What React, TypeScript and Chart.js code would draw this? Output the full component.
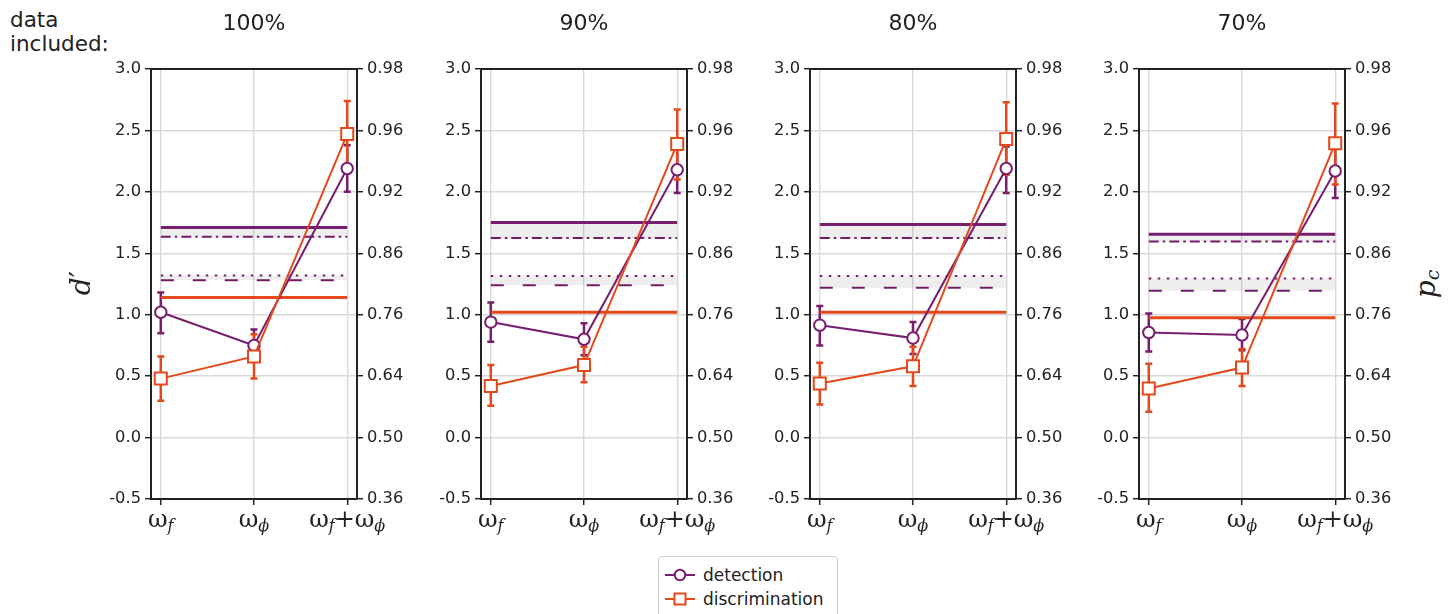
import React, { useEffect, useRef } from 'react';
import { Chart, registerables } from 'chart.js';

Chart.register(...registerables);

// ---------- data ----------
const panelTitles = ['100%', '90%', '80%', '70%'];
const categories = [0, 1, 2]; // ω_f, ω_ϕ, ω_f+ω_ϕ
const categoryLabels = [
  [{ t: 'ω' }, { t: 'f', sub: true }],
  [{ t: 'ω' }, { t: 'ϕ', sub: true }],
  [{ t: 'ω' }, { t: 'f', sub: true }, { t: '+' }, { t: 'ω' }, { t: 'ϕ', sub: true }],
];
const dprimeTicks = [-0.5, 0, 0.5, 1, 1.5, 2, 2.5, 3];
const pcTickLabels = ['0.36', '0.50', '0.64', '0.76', '0.86', '0.92', '0.96', '0.98'];

const detectionMean = [
  [1.02, 0.75, 2.19],
  [0.94, 0.8, 2.18],
  [0.915, 0.81, 2.19],
  [0.855, 0.835, 2.17],
];
const detectionLow = [
  [0.85, 0.62, 2.0],
  [0.78, 0.67, 1.99],
  [0.75, 0.68, 1.99],
  [0.7, 0.71, 1.95],
];
const detectionHigh = [
  [1.18, 0.88, 2.38],
  [1.1, 0.93, 2.36],
  [1.07, 0.94, 2.37],
  [1.01, 0.965, 2.38],
];
const discriminationMean = [
  [0.48, 0.66, 2.47],
  [0.42, 0.59, 2.39],
  [0.44, 0.58, 2.43],
  [0.4, 0.57, 2.395],
];
const discriminationLow = [
  [0.3, 0.48, 2.21],
  [0.26, 0.45, 2.1],
  [0.27, 0.42, 2.14],
  [0.21, 0.42, 2.06],
];
const discriminationHigh = [
  [0.66, 0.84, 2.74],
  [0.59, 0.74, 2.67],
  [0.61, 0.74, 2.73],
  [0.6, 0.72, 2.72],
];
const detectionSolid = [1.71, 1.75, 1.735, 1.655];
const detectionDashDot = [1.635, 1.625, 1.625, 1.595];
const detectionDotted = [1.32, 1.315, 1.315, 1.295];
const detectionDashed = [1.28, 1.24, 1.22, 1.195];
const discriminationSolid = [1.14, 1.02, 1.02, 0.975];

// ---------- style ----------
const PURPLE = '#771e6f';
const RED = '#e3491b';
const INK = '#222222';
const GRID = '#d9d9d9';
const BAND = 'rgba(0,0,0,0.065)';
const panelLefts = [151, 481, 810, 1139];
const AREA_W = 206;
const SIDE = 60;

const makeErrorBars = (p: number) => ({
  id: 'errorBars',
  beforeDatasetsDraw(chart: any) {
    const { ctx, scales } = chart;
    const xs = scales.x;
    const ys = scales.y;
    const series: [number[], number[], string][] = [
      [detectionLow[p], detectionHigh[p], PURPLE],
      [discriminationLow[p], discriminationHigh[p], RED],
    ];
    ctx.save();
    series.forEach(([lo, hi, color]) => {
      categories.forEach((c, i) => {
        const px = xs.getPixelForValue(c);
        const y1 = ys.getPixelForValue(lo[i]);
        const y2 = ys.getPixelForValue(hi[i]);
        ctx.strokeStyle = color;
        ctx.lineWidth = 2.5;
        ctx.beginPath();
        ctx.moveTo(px, y1);
        ctx.lineTo(px, y2);
        ctx.moveTo(px - 3.5, y1);
        ctx.lineTo(px + 3.5, y1);
        ctx.moveTo(px - 3.5, y2);
        ctx.lineTo(px + 3.5, y2);
        ctx.stroke();
      });
    });
    ctx.restore();
  },
});

const framePlugin = {
  id: 'frameTop',
  afterDraw(chart: any) {
    const { ctx, chartArea } = chart;
    ctx.save();
    ctx.strokeStyle = INK;
    ctx.lineWidth = 2;
    ctx.beginPath();
    ctx.moveTo(chartArea.left - 1, chartArea.top);
    ctx.lineTo(chartArea.right + 1, chartArea.top);
    ctx.stroke();
    ctx.restore();
  },
};

const mathTicksPlugin = {
  id: 'mathTicks',
  afterDraw(chart: any) {
    const { ctx, chartArea, scales } = chart;
    const xs = scales.x;
    const base = chartArea.bottom + 28;
    ctx.save();
    ctx.fillStyle = INK;
    ctx.textBaseline = 'alphabetic';
    ctx.textAlign = 'left';
    categoryLabels.forEach((parts, i) => {
      const fontOf = (s: any) => (s.sub ? 'italic 16px "DejaVu Serif"' : '24px "DejaVu Serif"');
      let total = 0;
      const widths = parts.map((s: any) => {
        ctx.font = fontOf(s);
        const w = ctx.measureText(s.t).width;
        total += w;
        return w;
      });
      let cx = xs.getPixelForValue(categories[i]) - total / 2;
      parts.forEach((s: any, k: number) => {
        ctx.font = fontOf(s);
        ctx.fillText(s.t, cx, base + (s.sub ? 4 : 0));
        cx += widths[k];
      });
    });
    ctx.restore();
  },
};

const hline = (v: number) => [
  { x: 0, y: v },
  { x: 2, y: v },
];

function Panel({ p }: { p: number }) {
  const ref = useRef<HTMLCanvasElement>(null);
  useEffect(() => {
    const canvas = ref.current;
    if (!canvas) return;
    const tickFont = { family: 'DejaVu Sans', size: 16.3 };
    const gridOpts = {
      color: GRID,
      lineWidth: 1.4,
      tickColor: INK,
      tickWidth: 1.5,
      tickLength: 6,
    };
    const chart = new Chart(canvas, {
      type: 'line',
      data: {
        datasets: [
          {
            label: 'detection',
            data: categories.map((c, i) => ({ x: c, y: detectionMean[p][i] })),
            borderColor: PURPLE,
            borderWidth: 2,
            pointStyle: 'circle',
            pointRadius: 5.7,
            pointBorderWidth: 2,
            pointBorderColor: PURPLE,
            pointBackgroundColor: '#ffffff',
            fill: false,
            order: 1,
          },
          {
            label: 'discrimination',
            data: categories.map((c, i) => ({ x: c, y: discriminationMean[p][i] })),
            borderColor: RED,
            borderWidth: 2,
            pointStyle: 'rect',
            pointRadius: 8.5,
            pointBorderWidth: 2,
            pointBorderColor: RED,
            pointBackgroundColor: '#ffffff',
            fill: false,
            order: 0,
          },
          {
            label: 'det solid',
            data: hline(detectionSolid[p]),
            borderColor: PURPLE,
            borderWidth: 3,
            pointRadius: 0,
            fill: '+1',
            backgroundColor: BAND,
            order: 10,
          },
          {
            label: 'det dashdot',
            data: hline(detectionDashDot[p]),
            borderColor: PURPLE,
            borderWidth: 2,
            borderDash: [10, 4, 2.5, 4],
            pointRadius: 0,
            fill: false,
            order: 10,
          },
          {
            label: 'det dotted',
            data: hline(detectionDotted[p]),
            borderColor: PURPLE,
            borderWidth: 2,
            borderDash: [2.5, 6.5],
            pointRadius: 0,
            fill: '+1',
            backgroundColor: BAND,
            order: 10,
          },
          {
            label: 'det dashed',
            data: hline(detectionDashed[p]),
            borderColor: PURPLE,
            borderWidth: 2,
            borderDash: [13, 19],
            pointRadius: 0,
            fill: false,
            order: 10,
          },
          {
            label: 'dis solid',
            data: hline(discriminationSolid[p]),
            borderColor: RED,
            borderWidth: 3,
            pointRadius: 0,
            fill: false,
            order: 10,
          },
        ],
      },
      options: {
        animation: false,
        responsive: false,
        devicePixelRatio: 1,
        events: [],
        layout: { padding: { top: 0, bottom: 75, left: 0, right: 0 } },
        plugins: {
          legend: { display: false },
          tooltip: { enabled: false },
          title: {
            display: true,
            text: panelTitles[p],
            color: INK,
            font: { family: 'DejaVu Sans', size: 22, weight: 'normal' },
            padding: { top: 10.8, bottom: 31.8 },
          },
        },
        scales: {
          x: {
            type: 'linear',
            min: -0.105,
            max: 2.105,
            afterBuildTicks: (s: any) => {
              s.ticks = categories.map((v) => ({ value: v }));
            },
            afterFit: (s: any) => {
              s.height = 40;
            },
            ticks: { display: false },
            grid: gridOpts,
            border: { display: true, color: INK, width: 2 },
          },
          y: {
            position: 'left',
            min: -0.5,
            max: 3,
            afterBuildTicks: (s: any) => {
              s.ticks = dprimeTicks.map((v) => ({ value: v }));
            },
            afterFit: (s: any) => {
              s.width = SIDE;
            },
            ticks: {
              color: INK,
              font: tickFont,
              padding: 4,
              callback: (v: any) => Number(v).toFixed(1),
            },
            grid: gridOpts,
            border: { display: true, color: INK, width: 2 },
          },
          y2: {
            position: 'right',
            min: -0.5,
            max: 3,
            afterBuildTicks: (s: any) => {
              s.ticks = dprimeTicks.map((v) => ({ value: v }));
            },
            afterFit: (s: any) => {
              s.width = SIDE;
            },
            ticks: {
              color: INK,
              font: tickFont,
              padding: 4,
              callback: (v: any) => {
                const k = dprimeTicks.findIndex((t) => Math.abs(t - Number(v)) < 1e-6);
                return k >= 0 ? pcTickLabels[k] : '';
              },
            },
            grid: { ...gridOpts, drawOnChartArea: false },
            border: { display: true, color: INK, width: 2 },
          },
        },
      },
      plugins: [makeErrorBars(p), framePlugin, mathTicksPlugin],
    } as any);
    return () => chart.destroy();
  }, [p]);
  const w = AREA_W + 2 * SIDE;
  return (
    <canvas
      ref={ref}
      width={w}
      height={614}
      style={{ position: 'absolute', left: panelLefts[p] - SIDE, top: 0, width: w, height: 614 }}
    />
  );
}

function LegendIcon({ color, square }: { color: string; square?: boolean }) {
  return (
    <svg width={30} height={16} style={{ display: 'block' }}>
      <line x1={0} y1={8} x2={30} y2={8} stroke={color} strokeWidth={2} />
      {square ? (
        <rect x={9.5} y={2.5} width={11} height={11} fill="#fff" stroke={color} strokeWidth={2} />
      ) : (
        <circle cx={15} cy={8} r={5.2} fill="#fff" stroke={color} strokeWidth={2} />
      )}
    </svg>
  );
}

export default function App() {
  const text = { fontFamily: '"DejaVu Sans"', color: INK };
  return (
    <div
      style={{
        position: 'absolute',
        left: 0,
        top: 0,
        width: 1452,
        height: 614,
        overflow: 'hidden',
        background: '#ffffff',
      }}
    >
      <div style={{ ...text, position: 'absolute', left: 10, top: 8, fontSize: 21.5, lineHeight: '24px' }}>
        data
        <br />
        included:
      </div>
      {panelTitles.map((_, p) => (
        <Panel key={p} p={p} />
      ))}
      <div
        style={{
          position: 'absolute',
          left: 30,
          top: 263,
          width: 100,
          height: 40,
          display: 'flex',
          alignItems: 'center',
          justifyContent: 'center',
          transform: 'rotate(-90deg)',
          fontFamily: '"DejaVu Serif"',
          fontSize: 28,
          color: INK,
        }}
      >
        <span style={{ fontStyle: 'italic' }}>d</span>
        <span>′</span>
      </div>
      <div
        style={{
          position: 'absolute',
          left: 1375,
          top: 264,
          width: 100,
          height: 40,
          display: 'flex',
          alignItems: 'center',
          justifyContent: 'center',
          transform: 'rotate(-90deg)',
          fontFamily: '"DejaVu Serif"',
          fontSize: 28,
          color: INK,
        }}
      >
        <span style={{ fontStyle: 'italic' }}>p</span>
        <span style={{ fontStyle: 'italic', fontSize: 19, position: 'relative', top: 7 }}>c</span>
      </div>
      <div
        style={{
          ...text,
          position: 'absolute',
          left: 658,
          top: 556,
          width: 180,
          height: 66,
          boxSizing: 'border-box',
          border: '1px solid #d0d0d0',
          borderRadius: 4,
          background: '#fff',
          paddingTop: 6,
          fontSize: 17,
        }}
      >
        {[
          { label: 'detection', color: PURPLE, square: false },
          { label: 'discrimination', color: RED, square: true },
        ].map((e) => (
          <div key={e.label} style={{ display: 'flex', alignItems: 'center', height: 24, paddingLeft: 6 }}>
            <LegendIcon color={e.color} square={e.square} />
            <span style={{ marginLeft: 8, lineHeight: '24px' }}>{e.label}</span>
          </div>
        ))}
      </div>
    </div>
  );
}
